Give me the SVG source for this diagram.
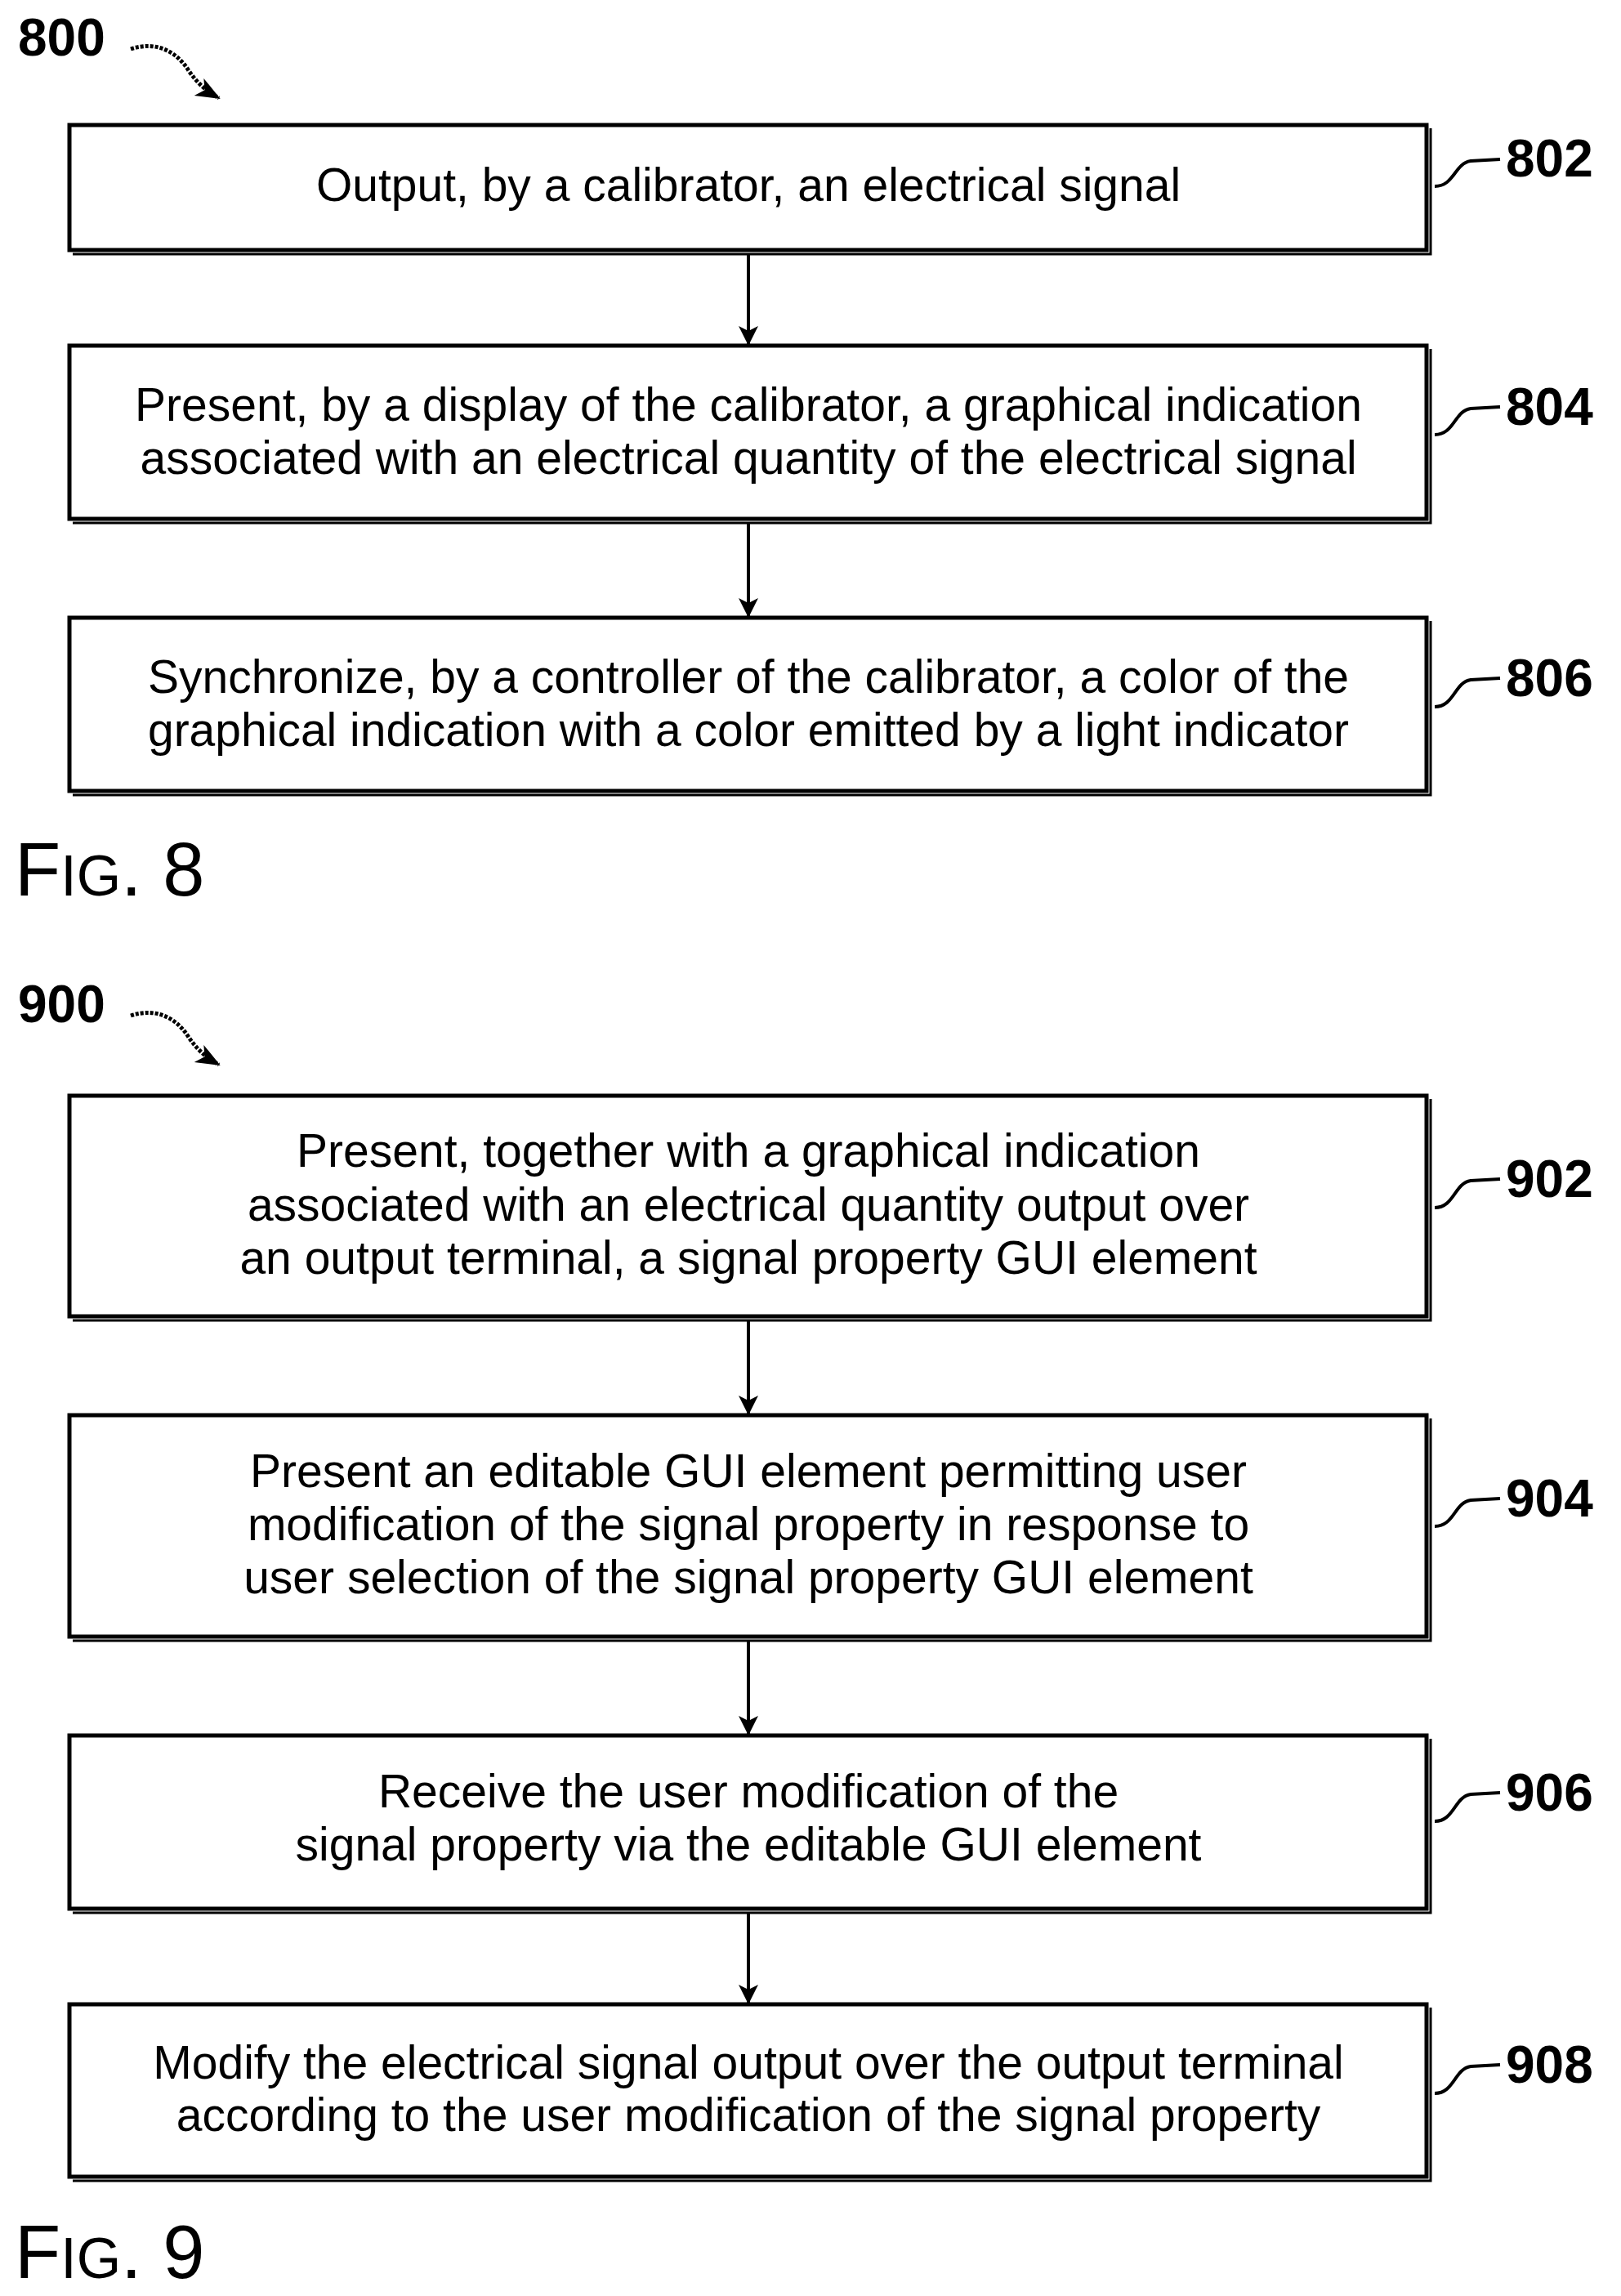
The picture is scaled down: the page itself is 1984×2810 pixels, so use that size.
<svg xmlns="http://www.w3.org/2000/svg" width="1984" height="2810" viewBox="0 0 1984 2810">
<defs>
<style>
.box{fill:#fff;stroke:#000;stroke-width:5}
.sh{fill:none;stroke:#000;stroke-width:3}
.t{font-family:"Liberation Sans",Arial,sans-serif;font-size:57px;text-anchor:middle;fill:#000}
.ref{font-family:"Liberation Sans",Arial,sans-serif;font-size:64px;font-weight:bold;fill:#000}
.fig{font-family:"Liberation Sans",Arial,sans-serif;font-size:92px;fill:#000}
.ln{fill:none;stroke:#000;stroke-width:4}
.sq{fill:none;stroke:#000;stroke-width:5;stroke-dasharray:4 2}
</style>
<marker id="ah" markerWidth="24" markerHeight="30" refX="22" refY="12" orient="auto" markerUnits="userSpaceOnUse" viewBox="0 0 24 24"><path d="M0,0 L24,12 L0,24 L6,12 Z" fill="#000"/></marker>
<marker id="ab" markerWidth="30" markerHeight="30" refX="28" refY="15" orient="auto" markerUnits="userSpaceOnUse"><path d="M0,3 L30,15 L0,27 L8,15 Z" fill="#000"/></marker>
</defs>
<g id="labels">
<text class="ref" x="22" y="68">800</text>
<path class="sq" d="M160,60 C190,50 215,62 230,85 C240,100 250,110 268,120" marker-end="url(#ab)"/>
<text class="ref" x="22" y="1251">900</text>
<path class="sq" d="M160,1243 C190,1233 215,1245 230,1268 C240,1283 250,1293 268,1303" marker-end="url(#ab)"/>
<text class="fig" x="18" y="1096">F<tspan font-size="70">IG</tspan>. 8</text>
<text class="fig" x="18" y="2788">F<tspan font-size="70">IG</tspan>. 9</text>
</g>
<g id="n802"><path class="sh" d="M89,311 H1751 V157"/><rect class="box" x="85" y="153" width="1661" height="153"/>
<text class="t" x="916" y="246">Output, by a calibrator, an electrical signal</text>
<path class="ln" d="M1756,228 C1780,228 1780,200 1800,197 L1836,195"/><text class="ref" x="1843" y="216">802</text></g>
<g id="n804"><path class="sh" d="M89,640 H1751 V427"/><rect class="box" x="85" y="423" width="1661" height="212"/>
<text class="t" x="916" y="515">Present, by a display of the calibrator, a graphical indication</text>
<text class="t" x="916" y="580">associated with an electrical quantity of the electrical signal</text>
<path class="ln" d="M1756,532 C1780,532 1780,503 1800,500 L1836,498"/><text class="ref" x="1843" y="520">804</text></g>
<g id="n806"><path class="sh" d="M89,973 H1751 V760"/><rect class="box" x="85" y="756" width="1661" height="212"/>
<text class="t" x="916" y="848">Synchronize, by a controller of the calibrator, a color of the</text>
<text class="t" x="916" y="913">graphical indication with a color emitted by a light indicator</text>
<path class="ln" d="M1756,865 C1780,865 1780,835 1800,832 L1836,830"/><text class="ref" x="1843" y="852">806</text></g>
<g id="n902"><path class="sh" d="M89,1616 H1751 V1345"/><rect class="box" x="85" y="1341" width="1661" height="270"/>
<text class="t" x="916" y="1428">Present, together with a graphical indication</text>
<text class="t" x="916" y="1494">associated with an electrical quantity output over</text>
<text class="t" x="916" y="1559">an output terminal, a signal property GUI element</text>
<path class="ln" d="M1756,1478 C1780,1478 1780,1448 1800,1445 L1836,1443"/><text class="ref" x="1843" y="1465">902</text></g>
<g id="n904"><path class="sh" d="M89,2008 H1751 V1736"/><rect class="box" x="85" y="1732" width="1661" height="271"/>
<text class="t" x="916" y="1820">Present an editable GUI element permitting user</text>
<text class="t" x="916" y="1885">modification of the signal property in response to</text>
<text class="t" x="916" y="1950">user selection of the signal property GUI element</text>
<path class="ln" d="M1756,1868 C1780,1868 1780,1839 1800,1836 L1836,1834"/><text class="ref" x="1843" y="1856">904</text></g>
<g id="n906"><path class="sh" d="M89,2341 H1751 V2128"/><rect class="box" x="85" y="2124" width="1661" height="212"/>
<text class="t" x="916" y="2212">Receive the user modification of the</text>
<text class="t" x="916" y="2277">signal property via the editable GUI element</text>
<path class="ln" d="M1756,2229 C1780,2229 1780,2199 1800,2196 L1836,2194"/><text class="ref" x="1843" y="2216">906</text></g>
<g id="n908"><path class="sh" d="M89,2669 H1751 V2457"/><rect class="box" x="85" y="2453" width="1661" height="211"/>
<text class="t" x="916" y="2544">Modify the electrical signal output over the output terminal</text>
<text class="t" x="916" y="2608">according to the user modification of the signal property</text>
<path class="ln" d="M1756,2562 C1780,2562 1780,2532 1800,2529 L1836,2527"/><text class="ref" x="1843" y="2549">908</text></g>
<g id="connectors" stroke="#000" stroke-width="4">
<line x1="916" y1="311" x2="916" y2="421" marker-end="url(#ah)"/>
<line x1="916" y1="640" x2="916" y2="754" marker-end="url(#ah)"/>
<line x1="916" y1="1616" x2="916" y2="1730" marker-end="url(#ah)"/>
<line x1="916" y1="2008" x2="916" y2="2122" marker-end="url(#ah)"/>
<line x1="916" y1="2341" x2="916" y2="2451" marker-end="url(#ah)"/>
</g>
</svg>
